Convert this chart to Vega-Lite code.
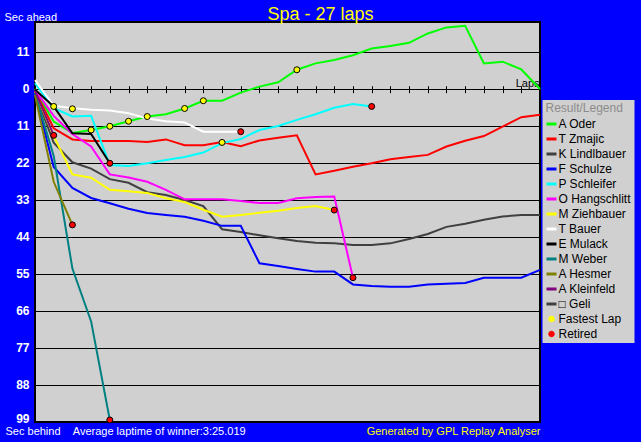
{
  "$schema": "https://vega.github.io/schema/vega-lite/v6.json",
  "width": 505,
  "height": 400,
  "autosize": {"type": "none"},
  "padding": {"left": 35, "top": 22, "right": 101, "bottom": 20},
  "background": "#0000FF",
  "config": {
    "view": {"fill": "#D0D0D0", "stroke": "#000000", "strokeWidth": 2},
    "font": "Liberation Sans"
  },
  "title": {"text": "Spa - 27 laps", "color": "#FFFF00", "fontSize": 18, "fontWeight": "normal", "font": "Liberation Sans", "anchor": "middle", "frame": "group", "dx": 33, "dy": 15, "offset": 2},
  "datasets": {
    "laps": [
      {"driver": "A Oder", "lap": 0, "gap": 0}, {"driver": "A Oder", "lap": 1, "gap": 9.7}, {"driver": "A Oder", "lap": 2, "gap": 13.1}, {"driver": "A Oder", "lap": 3, "gap": 12.2}, {"driver": "A Oder", "lap": 4, "gap": 11.1}, {"driver": "A Oder", "lap": 5, "gap": 9.6}, {"driver": "A Oder", "lap": 6, "gap": 8.2}, {"driver": "A Oder", "lap": 7, "gap": 7.5}, {"driver": "A Oder", "lap": 8, "gap": 5.8}, {"driver": "A Oder", "lap": 9, "gap": 3.5}, {"driver": "A Oder", "lap": 10, "gap": 3.5}, {"driver": "A Oder", "lap": 11, "gap": 1.1}, {"driver": "A Oder", "lap": 12, "gap": -0.7}, {"driver": "A Oder", "lap": 13, "gap": -2.0}, {"driver": "A Oder", "lap": 14, "gap": -5.7}, {"driver": "A Oder", "lap": 15, "gap": -7.6}, {"driver": "A Oder", "lap": 16, "gap": -8.6}, {"driver": "A Oder", "lap": 17, "gap": -10.0}, {"driver": "A Oder", "lap": 18, "gap": -12.0}, {"driver": "A Oder", "lap": 19, "gap": -12.8}, {"driver": "A Oder", "lap": 20, "gap": -13.7}, {"driver": "A Oder", "lap": 21, "gap": -16.5}, {"driver": "A Oder", "lap": 22, "gap": -18.3}, {"driver": "A Oder", "lap": 23, "gap": -18.8}, {"driver": "A Oder", "lap": 24, "gap": -7.6}, {"driver": "A Oder", "lap": 25, "gap": -8.1}, {"driver": "A Oder", "lap": 26, "gap": -5.8}, {"driver": "A Oder", "lap": 27, "gap": 0},
      {"driver": "T Zmajic", "lap": 0, "gap": 0.5}, {"driver": "T Zmajic", "lap": 1, "gap": 11.7}, {"driver": "T Zmajic", "lap": 2, "gap": 15.0}, {"driver": "T Zmajic", "lap": 3, "gap": 15.5}, {"driver": "T Zmajic", "lap": 4, "gap": 15.5}, {"driver": "T Zmajic", "lap": 5, "gap": 15.5}, {"driver": "T Zmajic", "lap": 6, "gap": 15.8}, {"driver": "T Zmajic", "lap": 7, "gap": 15.0}, {"driver": "T Zmajic", "lap": 8, "gap": 16.7}, {"driver": "T Zmajic", "lap": 9, "gap": 16.7}, {"driver": "T Zmajic", "lap": 10, "gap": 15.8}, {"driver": "T Zmajic", "lap": 11, "gap": 17.0}, {"driver": "T Zmajic", "lap": 12, "gap": 15.3}, {"driver": "T Zmajic", "lap": 13, "gap": 14.5}, {"driver": "T Zmajic", "lap": 14, "gap": 13.8}, {"driver": "T Zmajic", "lap": 15, "gap": 25.4}, {"driver": "T Zmajic", "lap": 16, "gap": 24.3}, {"driver": "T Zmajic", "lap": 17, "gap": 23.1}, {"driver": "T Zmajic", "lap": 18, "gap": 22.1}, {"driver": "T Zmajic", "lap": 19, "gap": 20.9}, {"driver": "T Zmajic", "lap": 20, "gap": 20.2}, {"driver": "T Zmajic", "lap": 21, "gap": 19.6}, {"driver": "T Zmajic", "lap": 22, "gap": 17.1}, {"driver": "T Zmajic", "lap": 23, "gap": 15.4}, {"driver": "T Zmajic", "lap": 24, "gap": 14.0}, {"driver": "T Zmajic", "lap": 25, "gap": 11.2}, {"driver": "T Zmajic", "lap": 26, "gap": 8.4}, {"driver": "T Zmajic", "lap": 27, "gap": 7.7},
      {"driver": "K Lindlbauer", "lap": 0, "gap": 1.0}, {"driver": "K Lindlbauer", "lap": 1, "gap": 16.0}, {"driver": "K Lindlbauer", "lap": 2, "gap": 21.8}, {"driver": "K Lindlbauer", "lap": 3, "gap": 23.7}, {"driver": "K Lindlbauer", "lap": 4, "gap": 26.8}, {"driver": "K Lindlbauer", "lap": 5, "gap": 27.9}, {"driver": "K Lindlbauer", "lap": 6, "gap": 30.7}, {"driver": "K Lindlbauer", "lap": 7, "gap": 31.5}, {"driver": "K Lindlbauer", "lap": 8, "gap": 33.0}, {"driver": "K Lindlbauer", "lap": 9, "gap": 34.8}, {"driver": "K Lindlbauer", "lap": 10, "gap": 41.7}, {"driver": "K Lindlbauer", "lap": 11, "gap": 42.5}, {"driver": "K Lindlbauer", "lap": 12, "gap": 43.5}, {"driver": "K Lindlbauer", "lap": 13, "gap": 44.4}, {"driver": "K Lindlbauer", "lap": 14, "gap": 45.2}, {"driver": "K Lindlbauer", "lap": 15, "gap": 45.7}, {"driver": "K Lindlbauer", "lap": 16, "gap": 45.9}, {"driver": "K Lindlbauer", "lap": 17, "gap": 46.4}, {"driver": "K Lindlbauer", "lap": 18, "gap": 46.4}, {"driver": "K Lindlbauer", "lap": 19, "gap": 45.9}, {"driver": "K Lindlbauer", "lap": 20, "gap": 44.6}, {"driver": "K Lindlbauer", "lap": 21, "gap": 43.1}, {"driver": "K Lindlbauer", "lap": 22, "gap": 41.0}, {"driver": "K Lindlbauer", "lap": 23, "gap": 40.1}, {"driver": "K Lindlbauer", "lap": 24, "gap": 38.9}, {"driver": "K Lindlbauer", "lap": 25, "gap": 37.9}, {"driver": "K Lindlbauer", "lap": 26, "gap": 37.5}, {"driver": "K Lindlbauer", "lap": 27, "gap": 37.5},
      {"driver": "F Schulze", "lap": 0, "gap": 1.5}, {"driver": "F Schulze", "lap": 1, "gap": 23.2}, {"driver": "F Schulze", "lap": 2, "gap": 29.4}, {"driver": "F Schulze", "lap": 3, "gap": 32.4}, {"driver": "F Schulze", "lap": 4, "gap": 34.0}, {"driver": "F Schulze", "lap": 5, "gap": 35.6}, {"driver": "F Schulze", "lap": 6, "gap": 36.9}, {"driver": "F Schulze", "lap": 7, "gap": 37.5}, {"driver": "F Schulze", "lap": 8, "gap": 38.0}, {"driver": "F Schulze", "lap": 9, "gap": 39.2}, {"driver": "F Schulze", "lap": 10, "gap": 40.7}, {"driver": "F Schulze", "lap": 11, "gap": 40.7}, {"driver": "F Schulze", "lap": 12, "gap": 51.8}, {"driver": "F Schulze", "lap": 13, "gap": 52.6}, {"driver": "F Schulze", "lap": 14, "gap": 53.5}, {"driver": "F Schulze", "lap": 15, "gap": 54.3}, {"driver": "F Schulze", "lap": 16, "gap": 54.3}, {"driver": "F Schulze", "lap": 17, "gap": 58.1}, {"driver": "F Schulze", "lap": 18, "gap": 58.6}, {"driver": "F Schulze", "lap": 19, "gap": 58.8}, {"driver": "F Schulze", "lap": 20, "gap": 58.8}, {"driver": "F Schulze", "lap": 21, "gap": 58.1}, {"driver": "F Schulze", "lap": 22, "gap": 57.9}, {"driver": "F Schulze", "lap": 23, "gap": 57.7}, {"driver": "F Schulze", "lap": 24, "gap": 56.1}, {"driver": "F Schulze", "lap": 25, "gap": 56.1}, {"driver": "F Schulze", "lap": 26, "gap": 56.1}, {"driver": "F Schulze", "lap": 27, "gap": 53.8},
      {"driver": "P Schleifer", "lap": 0, "gap": -1.7}, {"driver": "P Schleifer", "lap": 1, "gap": 5.7}, {"driver": "P Schleifer", "lap": 2, "gap": 8.2}, {"driver": "P Schleifer", "lap": 3, "gap": 8.0}, {"driver": "P Schleifer", "lap": 4, "gap": 22.6}, {"driver": "P Schleifer", "lap": 5, "gap": 22.9}, {"driver": "P Schleifer", "lap": 6, "gap": 22.1}, {"driver": "P Schleifer", "lap": 7, "gap": 21.1}, {"driver": "P Schleifer", "lap": 8, "gap": 20.2}, {"driver": "P Schleifer", "lap": 9, "gap": 18.9}, {"driver": "P Schleifer", "lap": 10, "gap": 16.1}, {"driver": "P Schleifer", "lap": 11, "gap": 14.9}, {"driver": "P Schleifer", "lap": 12, "gap": 12.2}, {"driver": "P Schleifer", "lap": 13, "gap": 11.0}, {"driver": "P Schleifer", "lap": 14, "gap": 9.2}, {"driver": "P Schleifer", "lap": 15, "gap": 7.5}, {"driver": "P Schleifer", "lap": 16, "gap": 5.6}, {"driver": "P Schleifer", "lap": 17, "gap": 4.5}, {"driver": "P Schleifer", "lap": 18, "gap": 5.2},
      {"driver": "O Hangschlitt", "lap": 0, "gap": 0.3}, {"driver": "O Hangschlitt", "lap": 1, "gap": 8.0}, {"driver": "O Hangschlitt", "lap": 2, "gap": 13.4}, {"driver": "O Hangschlitt", "lap": 3, "gap": 17.1}, {"driver": "O Hangschlitt", "lap": 4, "gap": 25.4}, {"driver": "O Hangschlitt", "lap": 5, "gap": 26.3}, {"driver": "O Hangschlitt", "lap": 6, "gap": 27.6}, {"driver": "O Hangschlitt", "lap": 7, "gap": 30.0}, {"driver": "O Hangschlitt", "lap": 8, "gap": 32.8}, {"driver": "O Hangschlitt", "lap": 9, "gap": 32.8}, {"driver": "O Hangschlitt", "lap": 10, "gap": 32.8}, {"driver": "O Hangschlitt", "lap": 11, "gap": 33.3}, {"driver": "O Hangschlitt", "lap": 12, "gap": 33.9}, {"driver": "O Hangschlitt", "lap": 13, "gap": 33.9}, {"driver": "O Hangschlitt", "lap": 14, "gap": 32.5}, {"driver": "O Hangschlitt", "lap": 15, "gap": 32.1}, {"driver": "O Hangschlitt", "lap": 16, "gap": 32.0}, {"driver": "O Hangschlitt", "lap": 17, "gap": 56.1},
      {"driver": "M Ziehbauer", "lap": 0, "gap": 0.8}, {"driver": "M Ziehbauer", "lap": 1, "gap": 14.0}, {"driver": "M Ziehbauer", "lap": 2, "gap": 25.4}, {"driver": "M Ziehbauer", "lap": 3, "gap": 26.4}, {"driver": "M Ziehbauer", "lap": 4, "gap": 30.0}, {"driver": "M Ziehbauer", "lap": 5, "gap": 30.4}, {"driver": "M Ziehbauer", "lap": 6, "gap": 30.9}, {"driver": "M Ziehbauer", "lap": 7, "gap": 32.5}, {"driver": "M Ziehbauer", "lap": 8, "gap": 33.6}, {"driver": "M Ziehbauer", "lap": 9, "gap": 35.9}, {"driver": "M Ziehbauer", "lap": 10, "gap": 38.0}, {"driver": "M Ziehbauer", "lap": 11, "gap": 37.5}, {"driver": "M Ziehbauer", "lap": 12, "gap": 36.8}, {"driver": "M Ziehbauer", "lap": 13, "gap": 36.2}, {"driver": "M Ziehbauer", "lap": 14, "gap": 35.4}, {"driver": "M Ziehbauer", "lap": 15, "gap": 34.8}, {"driver": "M Ziehbauer", "lap": 16, "gap": 36.0},
      {"driver": "T Bauer", "lap": 0, "gap": -2.6}, {"driver": "T Bauer", "lap": 1, "gap": 5.0}, {"driver": "T Bauer", "lap": 2, "gap": 5.7}, {"driver": "T Bauer", "lap": 3, "gap": 6.2}, {"driver": "T Bauer", "lap": 4, "gap": 6.4}, {"driver": "T Bauer", "lap": 5, "gap": 7.2}, {"driver": "T Bauer", "lap": 6, "gap": 8.8}, {"driver": "T Bauer", "lap": 7, "gap": 9.6}, {"driver": "T Bauer", "lap": 8, "gap": 10.0}, {"driver": "T Bauer", "lap": 9, "gap": 12.7}, {"driver": "T Bauer", "lap": 10, "gap": 12.7}, {"driver": "T Bauer", "lap": 11, "gap": 12.7},
      {"driver": "E Mulack", "lap": 0, "gap": 0.2}, {"driver": "E Mulack", "lap": 1, "gap": 5.2}, {"driver": "E Mulack", "lap": 2, "gap": 13.2}, {"driver": "E Mulack", "lap": 3, "gap": 13.4}, {"driver": "E Mulack", "lap": 4, "gap": 22.1},
      {"driver": "M Weber", "lap": 0, "gap": 1.2}, {"driver": "M Weber", "lap": 1, "gap": 19.9}, {"driver": "M Weber", "lap": 2, "gap": 53.4}, {"driver": "M Weber", "lap": 3, "gap": 69.1}, {"driver": "M Weber", "lap": 4, "gap": 98.4},
      {"driver": "A Hesmer", "lap": 0, "gap": 1.8}, {"driver": "A Hesmer", "lap": 1, "gap": 27.6}, {"driver": "A Hesmer", "lap": 2, "gap": 40.4},
      {"driver": "A Kleinfeld", "lap": 0, "gap": 0.6}, {"driver": "A Kleinfeld", "lap": 1, "gap": 13.8}
    ],
    "fastest": [
      {"kind": "Fastest Lap", "lap": 1, "gap": 5.2}, {"kind": "Fastest Lap", "lap": 2, "gap": 5.9}, {"kind": "Fastest Lap", "lap": 3, "gap": 12.2}, {"kind": "Fastest Lap", "lap": 4, "gap": 11.1}, {"kind": "Fastest Lap", "lap": 5, "gap": 9.6}, {"kind": "Fastest Lap", "lap": 6, "gap": 8.2}, {"kind": "Fastest Lap", "lap": 8, "gap": 5.8}, {"kind": "Fastest Lap", "lap": 9, "gap": 3.5}, {"kind": "Fastest Lap", "lap": 10, "gap": 15.9}, {"kind": "Fastest Lap", "lap": 14, "gap": -5.7}
    ],
    "retired": [
      {"kind": "Retired", "driver": "A Kleinfeld", "lap": 1, "gap": 13.8}, {"kind": "Retired", "driver": "A Hesmer", "lap": 2, "gap": 40.4}, {"kind": "Retired", "driver": "E Mulack", "lap": 4, "gap": 22.1}, {"kind": "Retired", "driver": "M Weber", "lap": 4, "gap": 98.4}, {"kind": "Retired", "driver": "T Bauer", "lap": 11, "gap": 12.7}, {"kind": "Retired", "driver": "M Ziehbauer", "lap": 16, "gap": 36.0}, {"kind": "Retired", "driver": "O Hangschlitt", "lap": 17, "gap": 56.1}, {"kind": "Retired", "driver": "P Schleifer", "lap": 18, "gap": 5.2}
    ]
  },
  "layer": [
    {
      "data": {"name": "laps"},
      "mark": {"type": "line", "strokeWidth": 2},
      "encoding": {
        "x": {
          "field": "lap", "type": "quantitative",
          "scale": {"domain": [0, 27], "nice": false, "zero": false},
          "axis": {"orient": "top", "offset": -70.7, "values": [1,2,3,4,5,6,7,8,9,10,11,12,13,14,15,16,17,18,19,20,21,22,23,24,25,26], "labels": false, "domain": false, "grid": false, "ticks": true, "tickColor": "#000000", "tickSize": 7, "tickWidth": 1, "title": "Laps", "titleColor": "#000000", "titleFont": "Liberation Sans", "titleFontSize": 11, "titleFontWeight": "normal", "titleX": 504, "titleY": -6, "titleAlign": "right", "titleBaseline": "alphabetic", "titleAnchor": "end"}
        },
        "y": {
          "field": "gap", "type": "quantitative",
          "scale": {"domain": [-19.9, 99], "reverse": true, "nice": false, "zero": false},
          "axis": {"orient": "left", "values": [-11, 0, 11, 22, 33, 44, 55, 66, 77, 88, 99], "labelExpr": "format(abs(datum.value), 'd')", "grid": true, "gridColor": "#000000", "gridWidth": 1, "gridOpacity": 1, "domain": false, "ticks": false, "labelColor": "#FFFFFF", "labelFont": "Liberation Sans", "labelFontSize": 12, "labelFontWeight": "bold", "labelPadding": 6, "labelFlush": false, "labelOverlap": false, "labelBaseline": {"condition": {"test": "datum.value == 99", "value": "alphabetic"}, "value": "middle"}, "title": "Sec ahead", "titleAngle": 0, "titleColor": "#FFFFFF", "titleFont": "Liberation Sans", "titleFontSize": 11, "titleFontWeight": "normal", "titleAlign": "left", "titleBaseline": "alphabetic", "titleX": -31, "titleY": -2}
        },
        "color": {
          "field": "driver", "type": "nominal",
          "scale": {
            "domain": ["A Oder", "T Zmajic", "K Lindlbauer", "F Schulze", "P Schleifer", "O Hangschlitt", "M Ziehbauer", "T Bauer", "E Mulack", "M Weber", "A Hesmer", "A Kleinfeld", "□ Geli", "Fastest Lap", "Retired"],
            "range": ["#00FF00", "#FF0000", "#404040", "#0000FF", "#00FFFF", "#FF00FF", "#FFFF00", "#FFFFFF", "#000000", "#008080", "#808000", "#800080", "#404040", "#FFFF00", "#FF0000"]
          },
          "legend": {
            "orient": "none", "legendX": 507.5, "legendY": 78,
            "title": "Result/Legend", "titleColor": "#8C8C8C", "titleFont": "Liberation Sans", "titleFontSize": 12, "titleFontWeight": "normal", "titlePadding": 3,
            "labelFont": "Liberation Sans", "labelFontSize": 12, "labelColor": "#000000", "labelOffset": 1, "labelLimit": 200,
            "symbolType": "stroke", "symbolSize": 100, "symbolStrokeWidth": 3,
            "rowPadding": 3, "padding": 3, "fillColor": "#D0D0D0",
            "encode": {"symbols": {"update": {
              "shape": {"signal": "indexof(['Fastest Lap','Retired'], datum.value) >= 0 ? 'circle' : 'stroke'"},
              "size": {"signal": "indexof(['Fastest Lap','Retired'], datum.value) >= 0 ? 30 : 100"},
              "fill": {"signal": "indexof(['Fastest Lap','Retired'], datum.value) >= 0 ? scale('color', datum.value) : 'transparent'"},
              "stroke": {"signal": "indexof(['Fastest Lap','Retired'], datum.value) >= 0 ? '#000000' : scale('color', datum.value)"},
              "strokeWidth": {"signal": "indexof(['Fastest Lap','Retired'], datum.value) >= 0 ? 1 : 3"},
              "opacity": {"value": 1}
            }}}
          }
        }
      }
    },
    {
      "data": {"name": "fastest"},
      "mark": {"type": "circle", "size": 36, "opacity": 1, "stroke": "#000000", "strokeWidth": 1},
      "encoding": {
        "x": {"field": "lap", "type": "quantitative", "axis": {"orient": "bottom", "labels": false, "ticks": false, "domain": false, "grid": false, "title": "Sec behind\u00a0\u00a0\u00a0\u00a0Average laptime of winner:3:25.019", "titleColor": "#FFFFFF", "titleFont": "Liberation Sans", "titleFontSize": 11, "titleFontWeight": "normal", "titleAlign": "left", "titleAnchor": "start", "titleBaseline": "alphabetic", "titleX": -30, "titleY": 12.5}},
        "y": {"field": "gap", "type": "quantitative", "axis": null},
        "color": {"field": "kind", "type": "nominal"}
      }
    },
    {
      "data": {"name": "retired"},
      "mark": {"type": "circle", "size": 36, "opacity": 1, "stroke": "#000000", "strokeWidth": 1},
      "encoding": {
        "x": {"field": "lap", "type": "quantitative", "axis": null},
        "y": {"field": "gap", "type": "quantitative", "axis": {"orient": "right", "labels": false, "ticks": false, "domain": false, "grid": false, "title": "Generated by GPL Replay Analyser", "titleColor": "#FFFF00", "titleFont": "Liberation Sans", "titleFontSize": 11, "titleFontWeight": "normal", "titleAngle": 0, "titleAlign": "right", "titleBaseline": "alphabetic", "titleX": 0, "titleY": 412.5}},
        "color": {"field": "kind", "type": "nominal"}
      }
    }
  ],
  "resolve": {"axis": {"x": "independent", "y": "independent"}}
}
